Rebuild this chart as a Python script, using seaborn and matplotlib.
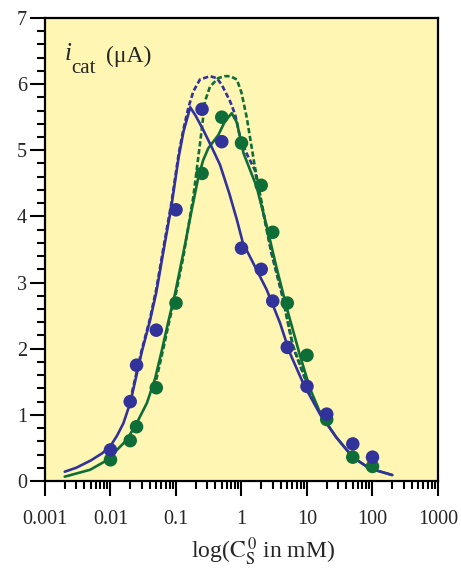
"""
Catalytic current vs substrate concentration (log scale), two series
with their fitted curves (solid) and limiting curves (dashed).
"""

import numpy as np
import matplotlib
matplotlib.use("Agg")
import matplotlib.pyplot as plt
import matplotlib.ticker as mticker
import seaborn as sns

# ─────────────────────────────────────────────
# Data
# ─────────────────────────────────────────────

conc = [0.01, 0.02, 0.025, 0.05, 0.1, 0.25, 0.5, 1, 2, 3, 5, 10, 20, 50, 100]
blue_pts = [0.47, 1.20, 1.75, 2.28, 4.10, 5.62, 5.13, 3.52, 3.20, 2.72, 2.02, 1.43, 1.01, 0.56, 0.36]
green_pts = [0.32, 0.61, 0.82, 1.41, 2.69, 4.65, 5.50, 5.11, 4.47, 3.76, 2.69, 1.90, 0.93, 0.36, 0.22]

blue_fit_x = [0.002, 0.003, 0.005, 0.0075, 0.01, 0.0125, 0.0157, 0.02, 0.0237, 0.03, 0.04,
              0.05, 0.065, 0.085, 0.11, 0.13, 0.165, 0.2, 0.26, 0.35, 0.47, 0.65, 0.85,
              1.05, 1.5, 2.43, 3.87, 5.5, 9.0, 16, 28, 50, 90, 200]
blue_fit_y = [0.14, 0.20, 0.31, 0.42, 0.53, 0.68, 0.87, 1.18, 1.50, 1.95, 2.42,
              2.85, 3.50, 4.15, 4.90, 5.28, 5.65, 5.52, 5.31, 5.05, 4.78, 4.35, 3.95,
              3.60, 3.30, 2.89, 2.39, 1.93, 1.45, 1.00, 0.66, 0.36, 0.19, 0.09]

green_fit_x = [0.002, 0.0049, 0.0087, 0.0177, 0.025, 0.036, 0.048, 0.061, 0.076, 0.097,
               0.129, 0.174, 0.22, 0.26, 0.311, 0.443, 0.56, 0.71, 0.85, 1.07, 1.7,
               2.43, 3.4, 4.9, 7.8, 11.1, 16, 28, 50, 90, 200]
green_fit_y = [0.065, 0.17, 0.31, 0.62, 0.87, 1.18, 1.55, 1.98, 2.40, 2.84,
               3.44, 4.10, 4.60, 4.85, 5.03, 5.23, 5.44, 5.56, 5.42, 4.96, 4.45,
               3.85, 3.24, 2.62, 1.90, 1.40, 1.02, 0.66, 0.36, 0.19, 0.09]

blue_lim_x = [0.02, 0.03, 0.04, 0.05, 0.065, 0.085, 0.11, 0.13, 0.155, 0.184, 0.232,
              0.33, 0.42, 0.50, 0.67, 0.80, 0.95, 1.2, 1.6, 2.15, 2.87, 4.1, 6.1,
              11, 16]
blue_lim_y = [1.22, 1.98, 2.45, 2.90, 3.55, 4.20, 4.95, 5.32, 5.65, 5.89, 6.07,
              6.12, 6.09, 5.99, 5.74, 5.54, 5.20, 4.95, 4.70, 4.05, 3.44, 2.84, 2.03,
              1.36, 1.02]

green_lim_x = [0.05, 0.065, 0.08, 0.1, 0.13, 0.184, 0.247, 0.277, 0.33, 0.44, 0.55,
               0.67, 0.85, 1.0, 1.2, 1.6, 2.15, 2.87, 4.1, 6.1, 11, 16]
green_lim_y = [1.53, 2.03, 2.44, 2.84, 3.40, 4.30, 5.31, 5.74, 5.96, 6.09, 6.12,
               6.12, 6.07, 5.87, 5.50, 4.75, 4.08, 3.46, 2.86, 2.05, 1.37, 1.02]

x_ticks = [0.001, 0.01, 0.1, 1, 10, 100, 1000]
x_tick_labels = ["0.001", "0.01", "0.1", "1", "10", "100", "1000"]
y_ticks = [0, 1, 2, 3, 4, 5, 6, 7]

BLUE = "#32339a"
GREEN = "#0f6e37"
BG = "#fff6b4"

# ─────────────────────────────────────────────
# Style
# ─────────────────────────────────────────────

sns.set_style("ticks")
plt.rcParams["font.family"] = ["Liberation Serif", "DejaVu Serif"]
plt.rcParams["mathtext.fontset"] = "stix"

fig = plt.figure(figsize=(4.61, 5.69), dpi=100)
ax = fig.add_axes([0.0976, 0.1547, 0.8525, 0.8137])
ax.set_facecolor(BG)

# limiting (dashed) curves
for xs, ys, col in [(blue_lim_x, blue_lim_y, BLUE), (green_lim_x, green_lim_y, GREEN)]:
    sns.lineplot(x=xs, y=ys, ax=ax, color=col, lw=1.9, sort=False,
                 estimator=None, zorder=2)
    ax.lines[-1].set_dashes([2.0, 1.0])

# fitted (solid) curves
sns.lineplot(x=green_fit_x, y=green_fit_y, ax=ax, color=GREEN, lw=1.9,
             sort=False, estimator=None, zorder=3)
sns.lineplot(x=blue_fit_x, y=blue_fit_y, ax=ax, color=BLUE, lw=1.9,
             sort=False, estimator=None, zorder=3)

# measured points
sns.scatterplot(x=conc, y=green_pts, ax=ax, color=GREEN, s=95,
                edgecolor="none", zorder=4)
sns.scatterplot(x=conc, y=blue_pts, ax=ax, color=BLUE, s=95,
                edgecolor="none", zorder=5)

# ─────────────────────────────────────────────
# Axes
# ─────────────────────────────────────────────

ax.set_xscale("log")
ax.set_xlim(0.001, 1000)
ax.set_ylim(0, 7)
ax.set_xticks(x_ticks)
ax.xaxis.set_major_formatter(mticker.FixedFormatter(x_tick_labels))
ax.xaxis.set_minor_locator(mticker.LogLocator(base=10, subs=np.arange(2, 10), numticks=20))
ax.xaxis.set_minor_formatter(mticker.NullFormatter())
ax.set_yticks(y_ticks)
ax.yaxis.set_minor_locator(mticker.MultipleLocator(0.2))

for s in ax.spines.values():
    s.set_linewidth(1.6)
    s.set_color("black")

ax.tick_params(axis="both", which="major", direction="out", length=11,
               width=1.5, labelsize=14.5, color="black")
ax.tick_params(axis="both", which="minor", direction="out", length=6,
               width=1.5, color="black")
ax.tick_params(axis="x", which="major", pad=10)
ax.tick_params(axis="y", which="major", pad=2)

ax.set_xlabel(r"log($\mathrm{C}_{\mathrm{S}}^{\,0}$ in mM)", fontsize=17)
ax.xaxis.set_label_coords(0.555, -0.118)
ax.set_ylabel("")

# in-plot y label: i_cat (μA)
ax.text(0.05, 0.909, "i", transform=ax.transAxes, fontsize=18,
        style="italic", va="baseline", ha="left")
ax.text(0.066, 0.882, "cat", transform=ax.transAxes, fontsize=15,
        va="baseline", ha="left")
ax.text(0.155, 0.905, "(μA)", transform=ax.transAxes, fontsize=17,
        va="baseline", ha="left")

fig.savefig("out.png", dpi=100, facecolor="white")
plt.close(fig)
